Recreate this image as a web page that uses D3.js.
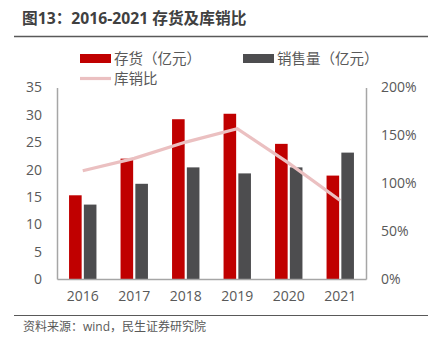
<!DOCTYPE html>
<html>
<head>
<meta charset="utf-8">
<script src="https://cdn.jsdelivr.net/npm/d3@7"></script>
<style>
  body { margin: 0; background: #fff; }
  text { font-family: "Open Sans", "Noto Sans CJK SC", sans-serif; }
</style>
</head>
<body>
<div id="chart"></div>
<script>
// yearly inventory, sales (亿元) and inventory-to-sales ratio (%)
const years = ["2016", "2017", "2018", "2019", "2020", "2021"];
const inventory = [15.3, 22.0, 29.2, 30.2, 24.7, 18.9];
const sales = [13.6, 17.4, 20.4, 19.3, 20.4, 23.1];
const ratio = [113, 126, 143, 157, 121, 82];
const leftTicks = [0, 5, 10, 15, 20, 25, 30, 35];
const rightTicks = [0, 50, 100, 150, 200];

const width = 438, height = 341;
const plot = { left: 57, right: 366, top: 87.5, bottom: 279 };

const svg = d3.select("#chart").append("svg")
    .attr("width", width)
    .attr("height", height);

// title and rules
svg.append("text")
    .attr("x", 22).attr("y", 24)
    .attr("fill", "#404040")
    .style("font-size", "15.7px")
    .style("font-weight", "700")
    .text("图13：2016-2021 存货及库销比");
svg.append("line")
    .attr("x1", 14).attr("x2", 428).attr("y1", 36.5).attr("y2", 36.5)
    .attr("stroke", "#595959").attr("stroke-width", 1.5);
svg.append("line")
    .attr("x1", 14).attr("x2", 428).attr("y1", 315.5).attr("y2", 315.5)
    .attr("stroke", "#595959").attr("stroke-width", 1.2);
svg.append("text")
    .attr("x", 23).attr("y", 331)
    .attr("fill", "#595959")
    .style("font-size", "12px")
    .text("资料来源：wind，民生证券研究院");

// scales
const x = d3.scaleBand().domain(years).range([plot.left, plot.right]);
const y = d3.scaleLinear().domain([0, 35]).range([plot.bottom, plot.top]);
const yr = d3.scaleLinear().domain([0, 200]).range([plot.bottom, plot.top]);
const barW = 12.6, gap = 2.2;

// bars
svg.append("g").selectAll("rect")
    .data(inventory)
    .join("rect")
    .attr("x", (d, i) => x(years[i]) + x.bandwidth() / 2 - gap / 2 - barW)
    .attr("y", d => y(d))
    .attr("width", barW)
    .attr("height", d => y(0) - y(d))
    .attr("fill", "#c00000");
svg.append("g").selectAll("rect")
    .data(sales)
    .join("rect")
    .attr("x", (d, i) => x(years[i]) + x.bandwidth() / 2 + gap / 2)
    .attr("y", d => y(d))
    .attr("width", barW)
    .attr("height", d => y(0) - y(d))
    .attr("fill", "#4d4d4f");

// ratio line
const line = d3.line()
    .x((d, i) => x(years[i]) + x.bandwidth() / 2)
    .y(d => yr(d));
svg.append("path")
    .datum(ratio)
    .attr("d", line)
    .attr("fill", "none")
    .attr("stroke", "#ebc0c1")
    .attr("stroke-width", 3.2);

// axes
const axisColor = "#a6a6a6";
const leftAxis = svg.append("g")
    .attr("transform", `translate(${plot.left},0)`)
    .call(d3.axisLeft(y).tickValues(leftTicks).tickSize(0).tickPadding(15));
const rightAxis = svg.append("g")
    .attr("transform", `translate(${plot.right},0)`)
    .call(d3.axisRight(yr).tickValues(rightTicks).tickSize(0).tickPadding(15)
        .tickFormat(d => d + "%"));
const bottomAxis = svg.append("g")
    .attr("transform", `translate(0,${plot.bottom})`)
    .call(d3.axisBottom(x).tickSize(0).tickPadding(12));
[leftAxis, rightAxis, bottomAxis].forEach(g => {
    g.select(".domain").attr("stroke", axisColor).attr("stroke-width", 1.5);
    g.selectAll("text")
        .attr("fill", "#595959")
        .style("font-size", "14px")
        .style("font-family", "'Open Sans', sans-serif");
});

// legend
const legend = svg.append("g");
const legendItems = [
    { label: "存货（亿元）", type: "bar", color: "#c00000", x: 80, y: 58.5 },
    { label: "销售量（亿元）", type: "bar", color: "#4d4d4f", x: 243, y: 58.5 },
    { label: "库销比", type: "line", color: "#ebc0c1", x: 80, y: 78.5 }
];
legendItems.forEach(item => {
    if (item.type === "bar") {
        legend.append("rect")
            .attr("x", item.x).attr("y", item.y - 4.5)
            .attr("width", 31).attr("height", 9)
            .attr("fill", item.color);
    } else {
        legend.append("line")
            .attr("x1", item.x).attr("x2", item.x + 31)
            .attr("y1", item.y).attr("y2", item.y)
            .attr("stroke", item.color).attr("stroke-width", 3.2);
    }
    legend.append("text")
        .attr("x", item.x + 34).attr("y", item.y)
        .attr("dy", "0.36em")
        .attr("fill", "#595959")
        .style("font-size", "14.5px")
        .text(item.label);
});
</script>
</body>
</html>
